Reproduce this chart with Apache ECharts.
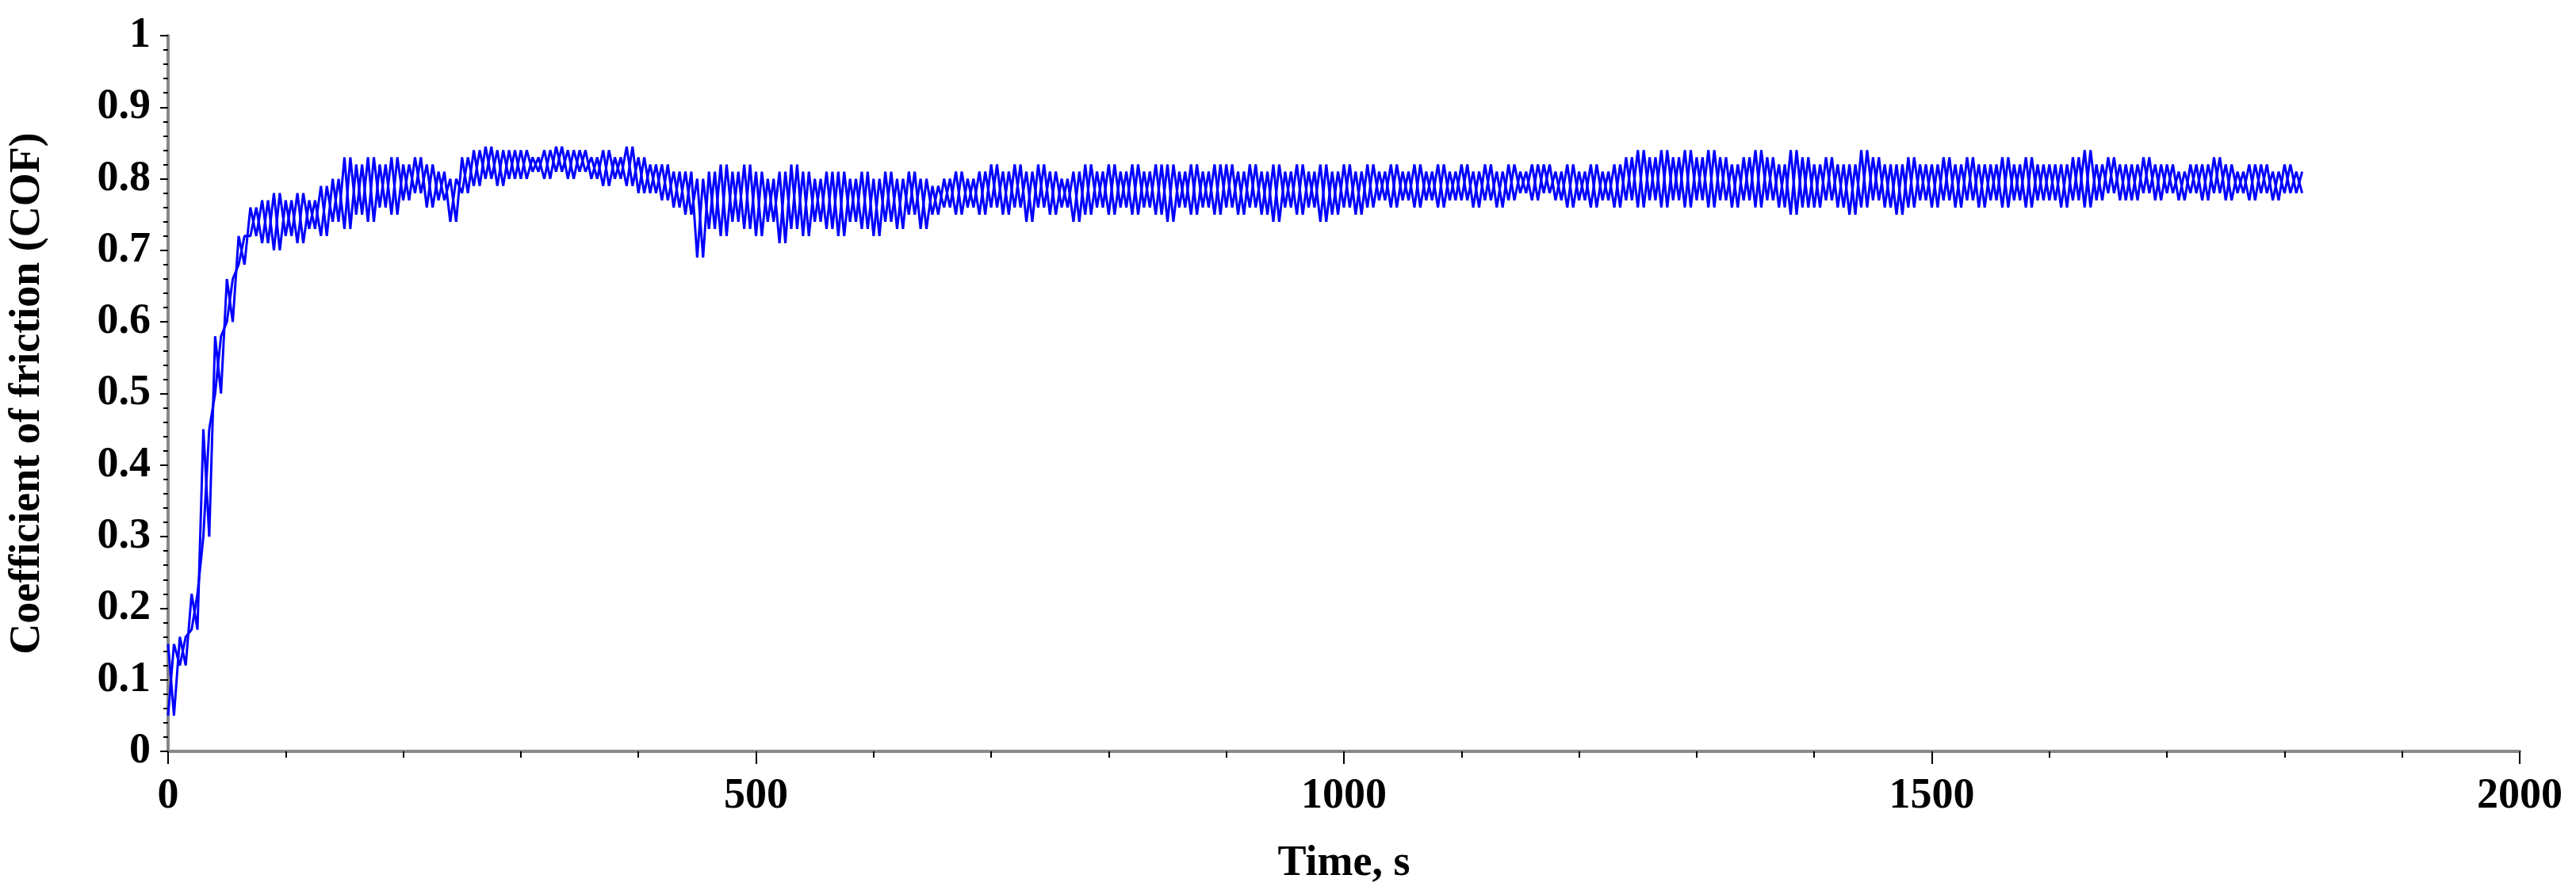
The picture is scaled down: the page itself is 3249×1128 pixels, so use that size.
<!DOCTYPE html>
<html><head><meta charset="utf-8">
<script src="https://cdn.jsdelivr.net/npm/echarts@6/dist/echarts.min.js"></script>
<style>html,body{margin:0;padding:0;background:#fff}#c{width:3249px;height:1128px}</style>
</head><body><div id="c"></div>
<script>
// Sample times (s), every 10 s
const times = [];
for (let t = 0; t <= 1810; t += 10) times.push(t);
// Lower envelope of the COF band
const cofLow = [
0.05,0.12,0.17,0.30,0.50,0.60,0.68,0.72,0.71,0.70,
0.72,0.71,0.73,0.72,0.74,0.73,0.75,0.74,0.76,0.75,
0.77,0.78,0.76,0.77,0.74,0.78,0.79,0.80,0.79,0.80,
0.80,0.81,0.80,0.81,0.80,0.81,0.80,0.79,0.80,0.79,
0.78,0.78,0.77,0.76,0.75,0.69,0.73,0.72,0.74,0.73,
0.72,0.74,0.71,0.73,0.72,0.74,0.73,0.72,0.74,0.73,
0.72,0.74,0.73,0.75,0.73,0.75,0.76,0.75,0.76,0.75,
0.76,0.75,0.76,0.74,0.76,0.75,0.76,0.74,0.75,0.76,
0.75,0.76,0.75,0.76,0.75,0.74,0.76,0.75,0.76,0.75,
0.76,0.75,0.76,0.75,0.74,0.76,0.75,0.76,0.74,0.75,
0.76,0.75,0.76,0.77,0.76,0.77,0.76,0.77,0.76,0.77,
0.77,0.76,0.77,0.76,0.77,0.78,0.77,0.78,0.77,0.76,
0.77,0.76,0.77,0.76,0.77,0.76,0.77,0.76,0.77,0.76,
0.77,0.76,0.77,0.76,0.77,0.76,0.77,0.76,0.75,0.76,
0.76,0.77,0.76,0.75,0.76,0.77,0.76,0.75,0.76,0.77,
0.76,0.77,0.76,0.77,0.76,0.77,0.76,0.77,0.76,0.77,
0.77,0.76,0.77,0.76,0.77,0.78,0.77,0.77,0.78,0.77,
0.78,0.77,0.78,0.77,0.78,0.77,0.78,0.77,0.78,0.77,
0.78,0.78];
// Upper envelope of the COF band
const cofHigh = [
0.15,0.16,0.22,0.45,0.58,0.66,0.72,0.76,0.77,0.78,
0.77,0.78,0.77,0.79,0.80,0.83,0.82,0.83,0.82,0.83,
0.82,0.83,0.82,0.81,0.80,0.83,0.84,0.845,0.84,0.84,
0.84,0.83,0.84,0.845,0.84,0.84,0.83,0.84,0.83,0.845,
0.83,0.82,0.82,0.81,0.81,0.80,0.81,0.82,0.81,0.82,
0.81,0.80,0.81,0.82,0.81,0.80,0.81,0.81,0.80,0.81,
0.80,0.81,0.80,0.81,0.80,0.79,0.80,0.81,0.80,0.81,
0.82,0.81,0.82,0.81,0.82,0.81,0.80,0.81,0.82,0.81,
0.82,0.81,0.82,0.81,0.82,0.82,0.81,0.82,0.81,0.82,
0.82,0.81,0.82,0.81,0.82,0.81,0.82,0.81,0.82,0.81,
0.82,0.81,0.82,0.81,0.82,0.81,0.82,0.81,0.82,0.81,
0.82,0.81,0.82,0.81,0.82,0.81,0.82,0.82,0.81,0.82,
0.81,0.82,0.81,0.82,0.83,0.84,0.83,0.84,0.83,0.84,
0.83,0.84,0.83,0.82,0.83,0.84,0.83,0.82,0.84,0.83,
0.82,0.83,0.82,0.82,0.84,0.83,0.82,0.82,0.83,0.82,
0.82,0.83,0.82,0.83,0.82,0.82,0.83,0.82,0.83,0.82,
0.82,0.82,0.83,0.84,0.82,0.83,0.82,0.82,0.83,0.82,
0.82,0.81,0.82,0.82,0.83,0.82,0.81,0.82,0.82,0.81,
0.82,0.81];
const xName = 'Time, s';
const yName = 'Coefficient of friction (COF)';

// Two traces visit the upper and lower readings alternately (opposite phase) to fill the noisy band
const traceA = [], traceB = [];
times.forEach((t, i) => {
  traceA.push([t, cofHigh[i]]);
  traceA.push([t + 5, cofLow[i]]);
  traceB.push([t, cofLow[i]]);
  traceB.push([t + 5, cofHigh[i]]);
});

const font = 'Liberation Serif';
const lbl = {fontFamily: font, fontWeight: 'bold', fontSize: 54, color: '#000'};
const chart = echarts.init(document.getElementById('c'));
chart.setOption({
  animation: false,
  grid: {left: 207, right: 71, top: 45, bottom: 180},
  xAxis: {
    type: 'value', min: 0, max: 2000, interval: 500,
    name: xName, nameLocation: 'middle', nameGap: 115,
    nameTextStyle: lbl,
    axisLine: {lineStyle: {color: '#888', width: 4}},
    axisTick: {show: true, length: 16, lineStyle: {color: '#000', width: 2}},
    minorTick: {show: true, splitNumber: 5, length: 8, lineStyle: {color: '#000', width: 2}},
    splitLine: {show: false},
    axisLabel: Object.assign({margin: 30, formatter: v => String(v)}, lbl)
  },
  yAxis: {
    type: 'value', min: 0, max: 1, interval: 0.1,
    name: yName, nameLocation: 'middle', nameGap: 150,
    nameTextStyle: lbl,
    axisLine: {show: true, lineStyle: {color: '#888', width: 4}},
    axisTick: {show: true, length: 10, lineStyle: {color: '#000', width: 2}},
    minorTick: {show: true, splitNumber: 5, length: 6, lineStyle: {color: '#000', width: 2}},
    splitLine: {show: false},
    axisLabel: Object.assign({margin: 22, formatter: v => String(Math.round(v * 10) / 10)}, lbl)
  },
  series: [
    {type: 'line', data: traceA, symbol: 'none', lineStyle: {color: '#0000ff', width: 3}},
    {type: 'line', data: traceB, symbol: 'none', lineStyle: {color: '#0000ff', width: 3}}
  ]
});
</script></body></html>
